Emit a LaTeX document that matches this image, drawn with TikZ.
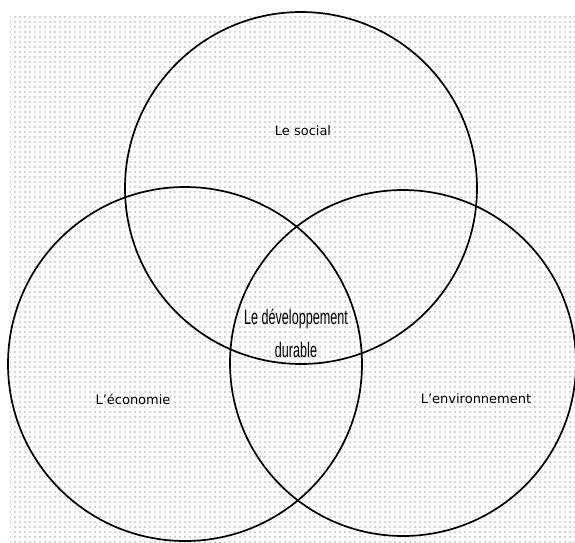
\documentclass[tikz,border=0pt]{standalone}
\usepackage{fontspec}
\setmainfont{DejaVu Sans}
\newfontfamily\narrowfont{Liberation Sans}
\usetikzlibrary{patterns.meta}
\tikzset{
  ring/.style={draw=black, line width=1.7pt},
  lbl/.style={font=\fontsize{13}{15}\selectfont, inner sep=1pt},
  centrelbl/.style={font=\narrowfont\fontsize{21}{33}\selectfont, align=center, xscale=0.6, inner sep=1pt}
}
\begin{document}
\begin{tikzpicture}[x=1pt,y=-1pt]
\useasboundingbox (0,0) rectangle (575,542);
\fill[white] (0,0) rectangle (575,542);
\fill[pattern={Dots[radius=0.6pt, distance=5pt]}, pattern color=black!70] (10,13) rectangle (575,542);
\node[circle, ring, minimum size=352pt, inner sep=0pt] (soc) at (301,188) {};
\node[circle, ring, minimum size=354pt, inner sep=0pt] (eco) at (185,364) {};
\node[circle, ring, minimum size=346pt, inner sep=0pt] (env) at (403,363) {};
\node[lbl] (tsoc) at (303,131) {Le social};
\node[lbl] (teco) at (133,399) {L’économie};
\node[lbl] (tenv) at (476,399) {L’environnement};
\node[centrelbl] (tdd) at (296,333) {Le développement\\durable};
\end{tikzpicture}
\end{document}
